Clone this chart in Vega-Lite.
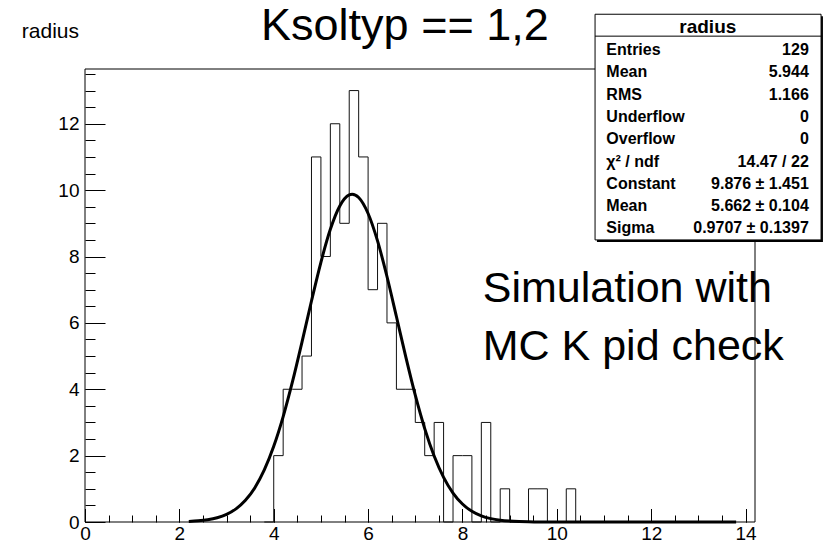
{
  "$schema": "https://vega.github.io/schema/vega-lite/v6.json",
  "width": 670,
  "height": 453,
  "autosize": "none",
  "padding": {"left": 85, "top": 69, "right": 68, "bottom": 22},
  "background": "white",
  "config": {"view": {"stroke": null}, "axis": {"grid": false, "title": null}},
  "layer": [
    {
      "layer": [
        {
          "data": {"values": [{}]},
          "mark": {"type": "rect", "filled": false, "color": "black", "strokeWidth": 1},
          "encoding": {
            "x": {"datum": 0, "type": "quantitative",
              "axis": {"orient": "bottom", "values": [0, 2, 4, 6, 8, 10, 12, 14], "offset": -13.5, "tickSize": 13.5, "labels": false, "domain": false, "tickColor": "black", "tickWidth": 1}},
            "x2": {"datum": 14.2},
            "y": {"datum": 0, "type": "quantitative",
              "axis": {"orient": "left", "values": [0, 2, 4, 6, 8, 10, 12], "offset": -20, "tickSize": 20, "labels": false, "domain": false, "tickColor": "black", "tickWidth": 1}},
            "y2": {"datum": 13.65}
          }
        },
        {
          "data": {"name": "hist", "values": [
            {"x0": 3.8, "n": 0}, {"x0": 4.0, "n": 2}, {"x0": 4.2, "n": 4}, {"x0": 4.4, "n": 4},
            {"x0": 4.6, "n": 5}, {"x0": 4.8, "n": 11}, {"x0": 5.0, "n": 8}, {"x0": 5.2, "n": 12},
            {"x0": 5.4, "n": 9}, {"x0": 5.6, "n": 13}, {"x0": 5.8, "n": 11}, {"x0": 6.0, "n": 7},
            {"x0": 6.2, "n": 9}, {"x0": 6.4, "n": 6}, {"x0": 6.6, "n": 4}, {"x0": 6.8, "n": 4},
            {"x0": 7.0, "n": 3}, {"x0": 7.2, "n": 2}, {"x0": 7.4, "n": 3}, {"x0": 7.6, "n": 0},
            {"x0": 7.8, "n": 2}, {"x0": 8.0, "n": 2}, {"x0": 8.2, "n": 0}, {"x0": 8.4, "n": 3},
            {"x0": 8.6, "n": 0}, {"x0": 8.8, "n": 1}, {"x0": 9.0, "n": 0}, {"x0": 9.2, "n": 0},
            {"x0": 9.4, "n": 1}, {"x0": 9.6, "n": 1}, {"x0": 9.8, "n": 0}, {"x0": 10.0, "n": 0},
            {"x0": 10.2, "n": 1}, {"x0": 10.4, "n": 0}
          ]},
          "mark": {"type": "line", "interpolate": "step-after", "color": "#111", "strokeWidth": 1},
          "encoding": {
            "x": {"field": "x0", "type": "quantitative",
              "scale": {"domain": [0, 14.2], "nice": false, "zero": false},
              "axis": {"orient": "bottom", "values": [0, 0.5, 1, 1.5, 2, 2.5, 3, 3.5, 4, 4.5, 5, 5.5, 6, 6.5, 7, 7.5, 8, 8.5, 9, 9.5, 10, 10.5, 11, 11.5, 12, 12.5, 13, 13.5, 14], "offset": -7, "tickSize": 7, "labels": false, "domain": false, "tickColor": "black", "tickWidth": 1}},
            "y": {"field": "n", "type": "quantitative",
              "scale": {"domain": [0, 13.65], "nice": false, "zero": false},
              "axis": {"orient": "left", "values": [0, 0.5, 1, 1.5, 2, 2.5, 3, 3.5, 4, 4.5, 5, 5.5, 6, 6.5, 7, 7.5, 8, 8.5, 9, 9.5, 10, 10.5, 11, 11.5, 12, 12.5, 13, 13.5], "offset": -10, "tickSize": 10, "labels": false, "domain": false, "tickColor": "black", "tickWidth": 1}}
          }
        },
        {
          "data": {"name": "gausfit", "values": [
            {"x": 2.2, "f": 0.0171}, {"x": 2.4, "f": 0.0349}, {"x": 2.6, "f": 0.0682}, {"x": 2.8, "f": 0.1279},
            {"x": 3.0, "f": 0.2299}, {"x": 3.2, "f": 0.3961}, {"x": 3.4, "f": 0.6539}, {"x": 3.6, "f": 1.0344},
            {"x": 3.8, "f": 1.5687}, {"x": 4.0, "f": 2.2807}, {"x": 4.2, "f": 3.1768}, {"x": 4.4, "f": 4.2415},
            {"x": 4.6, "f": 5.4284}, {"x": 4.8, "f": 6.6582}, {"x": 5.0, "f": 7.8267}, {"x": 5.2, "f": 8.8185},
            {"x": 5.4, "f": 9.5227}, {"x": 5.6, "f": 9.8559}, {"x": 5.662, "f": 9.876}, {"x": 5.8, "f": 9.7767},
            {"x": 6.0, "f": 9.2951}, {"x": 6.2, "f": 8.4699}, {"x": 6.4, "f": 7.3972}, {"x": 6.6, "f": 6.1919},
            {"x": 6.8, "f": 4.9674}, {"x": 7.0, "f": 3.8196}, {"x": 7.2, "f": 2.8148}, {"x": 7.4, "f": 1.9878},
            {"x": 7.6, "f": 1.3459}, {"x": 7.8, "f": 0.8731}, {"x": 8.0, "f": 0.5431}, {"x": 8.2, "f": 0.3237},
            {"x": 8.4, "f": 0.185}, {"x": 8.6, "f": 0.1013}, {"x": 8.8, "f": 0.0531}, {"x": 9.0, "f": 0.0267},
            {"x": 9.2, "f": 0.0129}, {"x": 9.4, "f": 0.006}, {"x": 9.6, "f": 0.0026}, {"x": 10.0, "f": 0.0004},
            {"x": 11.0, "f": 0}, {"x": 12.0, "f": 0}, {"x": 13.0, "f": 0}, {"x": 13.8, "f": 0}
          ]},
          "mark": {"type": "line", "interpolate": "monotone", "color": "black", "strokeWidth": 3},
          "encoding": {
            "x": {"field": "x", "type": "quantitative",
              "axis": {"orient": "bottom", "values": [0, 2, 4, 6, 8, 10, 12, 14], "ticks": false, "domain": false, "labelFont": "Liberation Sans", "labelFontSize": 19, "labelColor": "black", "labelPadding": 2, "labelFlush": false, "labelOverlap": false}},
            "y": {"field": "f", "type": "quantitative",
              "axis": {"orient": "left", "values": [0, 2, 4, 6, 8, 10, 12], "ticks": false, "domain": false, "labelFont": "Liberation Sans", "labelFontSize": 19, "labelColor": "black", "labelPadding": 6, "labelFlush": false, "labelOverlap": false}}
          }
        },
        {
          "data": {"values": [{}]},
          "mark": {"type": "text", "text": ["Simulation with", "MC K pid check"], "align": "left", "baseline": "alphabetic", "lineHeight": 58, "font": "Liberation Sans", "fontSize": 43, "color": "black"},
          "encoding": {
            "x": {"datum": 8.43, "type": "quantitative", "axis": null},
            "y": {"datum": 6.64, "type": "quantitative", "axis": null}
          }
        },
        {
          "data": {"values": [{}]},
          "mark": {"type": "text", "text": "Ksoltyp == 1,2", "align": "center", "baseline": "alphabetic", "font": "Liberation Sans", "fontSize": 45, "color": "black"},
          "encoding": {
            "x": {"datum": 6.78, "type": "quantitative", "axis": null},
            "y": {"datum": 14.52, "type": "quantitative", "axis": null}
          }
        },
        {
          "data": {"values": [{}]},
          "mark": {"type": "text", "text": "radius", "align": "left", "baseline": "alphabetic", "font": "Liberation Sans", "fontSize": 21, "color": "black"},
          "encoding": {
            "x": {"datum": -1.34, "type": "quantitative", "axis": null},
            "y": {"datum": 14.57, "type": "quantitative", "axis": null}
          }
        },
        {
          "data": {"values": [{}]},
          "mark": {"type": "rect", "color": "black"},
          "encoding": {
            "x": {"datum": 10.85, "type": "quantitative", "axis": null},
            "x2": {"datum": 15.64},
            "y": {"datum": 8.44, "type": "quantitative", "axis": null},
            "y2": {"datum": 15.24}
          }
        },
        {
          "data": {"values": [{}]},
          "mark": {"type": "rect", "fill": "white", "stroke": "black", "strokeWidth": 1},
          "encoding": {
            "x": {"datum": 10.81, "type": "quantitative", "axis": null},
            "x2": {"datum": 15.6},
            "y": {"datum": 8.5, "type": "quantitative", "axis": null},
            "y2": {"datum": 15.3}
          }
        },
        {
          "data": {"values": [{}]},
          "mark": {"type": "rule", "color": "black", "strokeWidth": 1},
          "encoding": {
            "x": {"datum": 10.81, "type": "quantitative", "axis": null},
            "x2": {"datum": 15.6},
            "y": {"datum": 14.64, "type": "quantitative", "axis": null}
          }
        },
        {
          "data": {"values": [{}]},
          "mark": {"type": "text", "text": "radius", "align": "center", "baseline": "alphabetic", "font": "Liberation Sans", "fontWeight": "bold", "fontSize": 19, "color": "black"},
          "encoding": {
            "x": {"datum": 13.2, "type": "quantitative", "axis": null},
            "y": {"datum": 14.73, "type": "quantitative", "axis": null}
          }
        }
      ],
      "resolve": {"axis": {"x": "independent", "y": "independent"}}
    },
    {
      "data": {"name": "stats", "values": [
        {"line": 1, "name": "Entries", "value": "129"},
        {"line": 2, "name": "Mean", "value": "5.944"},
        {"line": 3, "name": "RMS", "value": "1.166"},
        {"line": 4, "name": "Underflow", "value": "0"},
        {"line": 5, "name": "Overflow", "value": "0"},
        {"line": 6, "name": "χ² / ndf", "value": "14.47 / 22"},
        {"line": 7, "name": "Constant", "value": "9.876 ± 1.451"},
        {"line": 8, "name": "Mean", "value": "5.662 ± 0.104"},
        {"line": 9, "name": "Sigma", "value": "0.9707 ± 0.1397"}
      ]},
      "encoding": {
        "y": {"field": "line", "type": "quantitative", "scale": {"domain": [1, 9], "range": [-14, 164.4], "zero": false, "nice": false}, "axis": null}
      },
      "layer": [
        {
          "mark": {"type": "text", "align": "left", "baseline": "alphabetic", "font": "Liberation Sans", "fontWeight": "bold", "fontSize": 16, "color": "black"},
          "encoding": {
            "x": {"datum": 11.05, "type": "quantitative", "axis": null},
            "text": {"field": "name"}
          }
        },
        {
          "mark": {"type": "text", "align": "right", "baseline": "alphabetic", "font": "Liberation Sans", "fontWeight": "bold", "fontSize": 16, "color": "black"},
          "encoding": {
            "x": {"datum": 15.34, "type": "quantitative", "axis": null},
            "text": {"field": "value"}
          }
        }
      ]
    }
  ],
  "resolve": {"scale": {"y": "independent"}}
}
